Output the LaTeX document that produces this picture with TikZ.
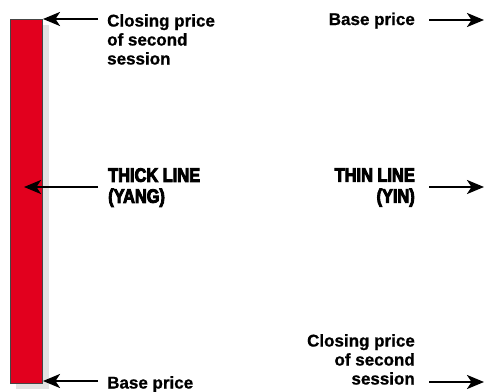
\documentclass[tikz,border=0pt]{standalone}
\usepackage{fontspec}
\setmainfont{Liberation Sans}
\newfontfamily\heavyfont{Liberation Sans}[FakeStretch=0.84,BoldFeatures={FakeBold=4.5}]
\newfontfamily\lblfont{Liberation Sans}[BoldFeatures={FakeBold=0.8}]
\usetikzlibrary{arrows.meta}
\definecolor{barred}{RGB}{226,0,30}
\definecolor{shadowgray}{RGB}{226,226,226}
\definecolor{edgegray}{RGB}{70,70,70}
\tikzset{
  arr/.style={line width=2.3pt,-{Stealth[length=17pt,width=14pt,inset=4.5pt]}},
  lbl/.style={inner sep=0pt,font=\fontsize{17}{19}\selectfont\lblfont\bfseries},
  heavy/.style={inner sep=0pt,font=\fontsize{19.5}{21}\selectfont\heavyfont\bfseries},
  barbox/.style={draw=edgegray,line width=0.7pt,fill=barred,inner sep=0pt,minimum width=32.5pt,minimum height=364pt}
}
\begin{document}
\begin{tikzpicture}[x=1pt,y=-1pt]
\useasboundingbox (0,0) rectangle (484,391);
\clip (0,0) rectangle (484,391);
% shadow of the bar
\fill[shadowgray] (16,25) rectangle (49,389);
% the thick bar
\node[barbox] (bar) at (26.5,201) {};
% left labels
\node[lbl,anchor=north west,align=left] (closeL) at (107,14) {Closing price\\of second\\session};
\node[heavy,anchor=north west,align=left] (thick) at (108,168) {THICK LINE\\(YANG)};
\node[lbl,anchor=north west,align=left] (baseL) at (107,376) {Base price};
% right labels
\node[lbl,anchor=north east,align=right] (baseR) at (415,12.5) {Base price};
\node[heavy,anchor=north east,align=right] (thin) at (415,168) {THIN LINE\\(YIN)};
\node[lbl,anchor=north east,align=right] (closeR) at (415,334) {Closing price\\of second\\session};
% arrow ends
\coordinate (tL1) at (98,19);
\coordinate (hL1) at (43,19);
\coordinate (tL2) at (98,187);
\coordinate (hL2) at (24,187);
\coordinate (tL3) at (98,381);
\coordinate (hL3) at (43,381);
\coordinate (tR1) at (429,20);
\coordinate (hR1) at (484,20);
\coordinate (tR2) at (429,187);
\coordinate (hR2) at (484,187);
\coordinate (tR3) at (429,382);
\coordinate (hR3) at (484,382);
\draw[arr] (tL1) -- (hL1);
\draw[arr] (tL2) -- (hL2);
\draw[arr] (tL3) -- (hL3);
\draw[arr] (tR1) -- (hR1);
\draw[arr] (tR2) -- (hR2);
\draw[arr] (tR3) -- (hR3);
\end{tikzpicture}
\end{document}
